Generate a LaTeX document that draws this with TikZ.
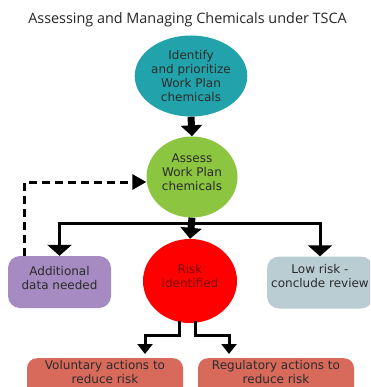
\documentclass[tikz,border=0pt]{standalone}
\usepackage{fontspec}
\setmainfont{DejaVu Sans}
\newfontfamily\titlefont{Open Sans}
\usetikzlibrary{arrows.meta,shapes.geometric}

\definecolor{txtgray}{HTML}{2B2B2B}
\definecolor{stepteal}{HTML}{22A3AB}
\definecolor{stepgreen}{HTML}{8CC53F}
\definecolor{riskred}{HTML}{FF0000}
\definecolor{riskdark}{HTML}{7A0C0C}
\definecolor{datapurple}{HTML}{A68AC2}
\definecolor{lowblue}{HTML}{B9CDD3}
\definecolor{actsalmon}{HTML}{D86A5C}

\begin{document}
\begin{tikzpicture}[x=1pt,y=1pt,
		every node/.style={font=\fontsize{12}{14}\selectfont, text=txtgray, align=center},
		stage/.style={ellipse, inner sep=0pt, minimum width=91pt, minimum height=81pt},
		outcome/.style={rounded corners=12pt, inner sep=0pt, minimum height=52pt},
		action/.style={rounded corners=10pt, inner xsep=0pt, inner ysep=2.5pt, text depth=14pt, minimum width=156pt},
		bigarrow/.style={line width=7pt, -{Triangle[width=21pt,length=11pt]}},
		flow/.style={line width=3pt, -{Triangle[width=24pt,length=11pt]}},
		splitarrow/.style={line width=3pt, -{Triangle[width=15pt,length=10pt]}},
		loopback/.style={line width=3pt, dash pattern=on 8pt off 5pt, -{Triangle[width=15pt,length=14pt]}}]
	\useasboundingbox (0,0) rectangle (370,-387);
	\clip (0,0) rectangle (370,-387);
	\fill[white] (0,0) rectangle (370,-387);

	% title
	\node[text=black!85] (title) at (187.5,-20) {\titlefont\fontsize{14.4}{17}\selectfont Assessing and Managing Chemicals under TSCA};

	% main column
	\node[stage, fill=stepteal] (identify) at (191,-76) {Identify\\and prioritize\\Work Plan\\chemicals};
	\node[stage, fill=stepgreen, text depth=10pt] (assess) at (192,-177) {Assess\\Work Plan\\chemicals};
	\node[stage, fill=riskred, minimum width=94pt, minimum height=84pt, text=riskdark, text depth=10pt] (risk) at (190,-281) {Risk\\identified};

	% outcomes of the assessment
	\node[outcome, fill=datapurple, minimum width=103pt, text depth=8pt] (additional) at (59.5,-282) {Additional\\data needed};
	\node[outcome, fill=lowblue, minimum width=106pt, text depth=14pt] (lowrisk) at (320,-282.5) {Low risk -\\conclude review};

	% risk management (boxes run off the bottom edge)
	\node[action, fill=actsalmon, anchor=north] (voluntary) at (105,-358) {Voluntary actions to\\reduce risk};
	\node[action, fill=actsalmon, anchor=north] (regulatory) at (276,-358) {Regulatory actions to\\reduce risk};

	% connectors
	\coordinate (split) at (192,-223);
	\draw[bigarrow] (identify.south) -- (assess.north);
	\draw[line width=3pt] (split -| additional.north) -- (split -| lowrisk.north);
	\draw[flow] (split) -| (additional.north);
	\draw[flow] (split) -| (lowrisk.north);
	\draw[bigarrow] (assess.south) -- (risk.north);
	\draw[loopback] ([xshift=17pt]additional.north west) |- ([yshift=-5pt]assess.west);
	\draw[splitarrow, shorten >=4pt] ([xshift=-11pt,yshift=2pt]risk.south) -- ++(0,-14) -| ([xshift=40pt]voluntary.north);
	\draw[splitarrow, shorten >=4pt] ([xshift=5pt,yshift=2pt]risk.south) -- ++(0,-14) -| ([xshift=-47pt]regulatory.north);
\end{tikzpicture}
\end{document}
